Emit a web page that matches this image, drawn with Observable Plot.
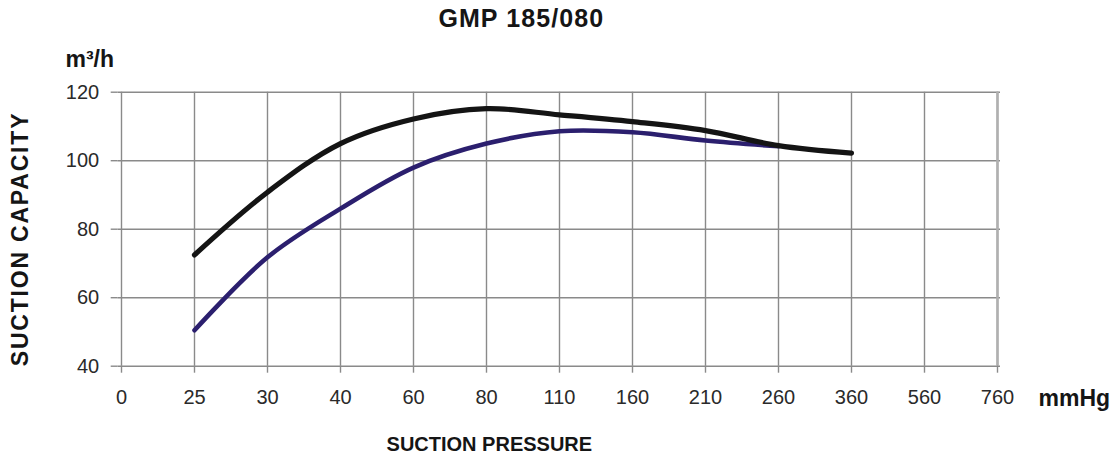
<!DOCTYPE html>
<html>
<head>
<meta charset="utf-8">
<script src="https://cdn.jsdelivr.net/npm/d3@7"></script>
<script src="https://cdn.jsdelivr.net/npm/@observablehq/plot@0.6"></script>
<style>
  html, body { margin: 0; padding: 0; background: #fff; }
  #chart { width: 1120px; height: 459px; }
</style>
</head>
<body>
<div id="chart"></div>
<script>
// ---- data ----
const pressureLabels = ["0", "25", "30", "40", "60", "80", "110", "160", "210", "260", "360", "560", "760"];
const capacityTicks = [40, 60, 80, 100, 120];

// upper (black) curve
const upperPressure = ["25", "30", "40", "60", "80", "110", "160", "210", "260", "360"];
const upperCapacity = [72.5, 90.8, 105, 112.2, 115.2, 113.4, 111.4, 108.8, 104.4, 102.2];

// lower (dark blue/purple) curve
const lowerPressure = ["25", "30", "40", "60", "80", "110", "160", "210", "260"];
const lowerCapacity = [50.5, 71.8, 86, 98, 105, 108.6, 108.3, 105.9, 104.2];

const titleText = "GMP 185/080";
const yLabel = "SUCTION CAPACITY";
const xLabel = "SUCTION PRESSURE";
const yUnit = "m³/h";
const xUnit = "mmHg";

const upper = upperPressure.map((p, i) => ({p, v: upperCapacity[i]}));
const lower = lowerPressure.map((p, i) => ({p, v: lowerCapacity[i]}));

const gridColor = "#8a8a8a";
const font = "'Liberation Sans', Arial, sans-serif";

const chart = Plot.plot({
  width: 1120,
  height: 459,
  marginLeft: 117.7,
  marginRight: 120,
  marginTop: 91.7,
  marginBottom: 93.3,
  style: {fontFamily: font, fontSize: "20px", color: "#2a2a2a", background: "#fff"},
  x: {type: "point", domain: pressureLabels, padding: 0},
  y: {domain: [40, 120]},
  marks: [
    Plot.gridY(capacityTicks, {stroke: gridColor, strokeOpacity: 1, strokeWidth: 1.4}),
    Plot.gridX(pressureLabels, {stroke: gridColor, strokeOpacity: 1, strokeWidth: 1.4}),
    Plot.ruleX(["760"], {stroke: "#b0b0b0", strokeWidth: 2.6}),
    Plot.axisY(capacityTicks, {tickSize: 7, tickPadding: 12, stroke: gridColor, strokeWidth: 1.4, fontSize: 20, label: null, fill: "#2a2a2a"}),
    Plot.axisX(pressureLabels, {tickSize: 7, tickPadding: 17, stroke: gridColor, strokeWidth: 1.4, fontSize: 20, label: null, fill: "#2a2a2a"}),
    Plot.line(lower, {x: "p", y: "v", stroke: "#2b1f6e", strokeWidth: 4.6, curve: "catmull-rom"}),
    Plot.line(upper, {x: "p", y: "v", stroke: "#141414", strokeWidth: 5.2, curve: "catmull-rom"}),
    Plot.text([titleText], {frameAnchor: "top", dx: -38, dy: -65, lineAnchor: "bottom", textAnchor: "middle", fontSize: 25, fontWeight: "bold", fill: "#151515"}),
    Plot.text([yUnit], {frameAnchor: "top-left", dx: -52.7, dy: -25.7, lineAnchor: "bottom", textAnchor: "start", fontSize: 23, fontWeight: "bold", fill: "#151515"}),
    Plot.text([xUnit], {frameAnchor: "bottom-right", dx: 38, dy: 40, lineAnchor: "bottom", textAnchor: "start", fontSize: 23, fontWeight: "bold", fill: "#151515"}),
    Plot.text([xLabel], {frameAnchor: "bottom", dx: -70, dy: 85, lineAnchor: "bottom", textAnchor: "middle", fontSize: 20, fontWeight: "bold", fill: "#151515"}),
    Plot.text([yLabel], {frameAnchor: "left", dx: -97.2, dy: 9.8, rotate: -90, lineAnchor: "middle", textAnchor: "middle", fontSize: 23, fontWeight: "bold", fill: "#151515"})
  ]
});

// letter spacing for the wide bold labels of the reference
const spacing = new Map([[titleText, "1.1px"], [yLabel, "1.8px"]]);
d3.select(chart).selectAll("text").each(function () {
  const s = spacing.get(this.textContent);
  if (s) d3.select(this).attr("letter-spacing", s);
});

document.getElementById("chart").appendChild(chart);
</script>
</body>
</html>
